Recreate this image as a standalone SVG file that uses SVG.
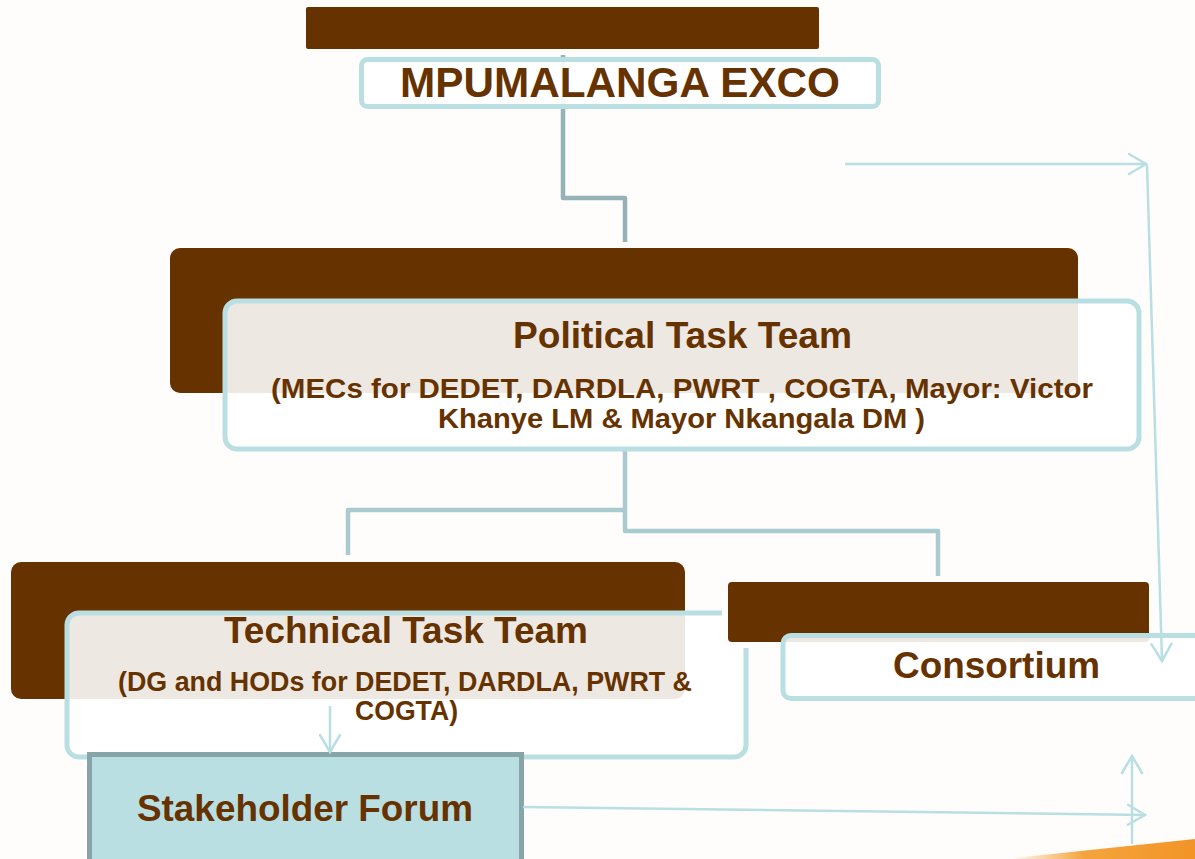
<svg xmlns="http://www.w3.org/2000/svg" width="1195" height="859" viewBox="0 0 1195 859">
  <defs>
    <style>
      .brown { fill: #663300; stroke: #fefdfc; stroke-width: 12; paint-order: stroke; }
      .card { fill: #ffffff; fill-opacity: 0.89; stroke: #b9dfe3; stroke-width: 5; }
      .lbl { font-family: "Liberation Sans", Arial, sans-serif; font-weight: bold; fill: #663300; text-anchor: middle; }
      .conn { fill: none; stroke: #a9cbcf; stroke-width: 4.5; stroke-linejoin: round; }
      .conn-top { fill: none; stroke: #95b3b7; stroke-width: 4.5; stroke-linejoin: round; }
      .flow { fill: none; stroke: #b9dfe3; stroke-width: 2.5; marker-end: url(#vhead); }
    </style>
    <marker id="vhead" viewBox="-2 -2 24 24" refX="18" refY="10" markerWidth="24" markerHeight="24" markerUnits="userSpaceOnUse" orient="auto">
      <path d="M1,0 L18,10 L1,20" fill="none" stroke="#b9dfe3" stroke-width="2.5" stroke-linecap="round"/>
    </marker>
    <linearGradient id="wedge" x1="1010" y1="0" x2="1195" y2="0" gradientUnits="userSpaceOnUse">
      <stop offset="0" stop-color="#f39a28" stop-opacity="0"/>
      <stop offset="0.4" stop-color="#f39a28" stop-opacity="0.9"/>
      <stop offset="1" stop-color="#f29426"/>
    </linearGradient>
  </defs>

  <rect x="0" y="0" width="1195" height="859" fill="#fefdfc"/>

  <!-- hierarchy connectors -->
  <g id="connectors">
    <path class="conn-top" d="M563,50 V198 H625 V243"/>
    <path class="conn" d="M625,449 V531 H938 V576"/>
    <path class="conn" d="M625,510 H348 V555"/>
  </g>

  <g id="node-exco">
    <rect class="brown" x="306" y="7" width="513" height="42" rx="2"/>
    <rect class="card" x="361.5" y="59.5" width="517" height="47" rx="6"/>
    <text class="lbl" x="620" y="97" font-size="42" textLength="440" lengthAdjust="spacingAndGlyphs">MPUMALANGA EXCO</text>
  </g>

  <g id="node-political">
    <rect class="brown" x="170" y="248" width="908" height="145" rx="10"/>
    <rect class="card" x="225" y="301" width="914" height="148" rx="12"/>
    <text class="lbl" x="682.5" y="348" font-size="36" textLength="339" lengthAdjust="spacingAndGlyphs">Political Task Team</text>
    <text class="lbl" x="682" y="398" font-size="28" textLength="822" lengthAdjust="spacingAndGlyphs">(MECs for DEDET, DARDLA, PWRT , COGTA, Mayor: Victor</text>
    <text class="lbl" x="681.5" y="428" font-size="28" textLength="487" lengthAdjust="spacingAndGlyphs">Khanye LM &amp; Mayor Nkangala DM )</text>
  </g>

  <g id="node-technical">
    <rect class="brown" x="11" y="562" width="674" height="137" rx="10"/>
    <rect class="card" x="67" y="613" width="679" height="144" rx="12"/>
    <text class="lbl" x="406" y="643" font-size="36" textLength="364" lengthAdjust="spacingAndGlyphs">Technical Task Team</text>
    <text class="lbl" x="405" y="691" font-size="28" textLength="574" lengthAdjust="spacingAndGlyphs">(DG and HODs for DEDET, DARDLA, PWRT &amp;</text>
    <text class="lbl" x="406.5" y="720" font-size="28" textLength="103" lengthAdjust="spacingAndGlyphs">COGTA)</text>
  </g>

  <g id="node-consortium">
    <rect class="brown" x="728" y="582" width="421" height="60" rx="4"/>
    <rect class="card" x="783" y="635.5" width="450" height="63" rx="8"/>
    <text class="lbl" x="996.5" y="678" font-size="36" textLength="207" lengthAdjust="spacingAndGlyphs">Consortium</text>
  </g>

  <g id="node-stakeholder">
    <rect x="89.5" y="754.5" width="432" height="130" fill="#b9dfe3" stroke="#87a5a9" stroke-width="5"/>
    <text class="lbl" x="305" y="821" font-size="37" textLength="336" lengthAdjust="spacingAndGlyphs">Stakeholder Forum</text>
  </g>

  <!-- information flow arrows -->
  <g id="flows">
    <path class="flow" d="M845,164 H1146"/>
    <path class="flow" d="M1147,165 L1162,661"/>
    <path class="flow" d="M330,706 V752"/>
    <path class="flow" d="M523,807 L1145,815"/>
    <path class="flow" d="M1132,844 V756"/>
  </g>

  <polygon points="1005,859 1195,839 1195,859" fill="url(#wedge)"/>
</svg>
